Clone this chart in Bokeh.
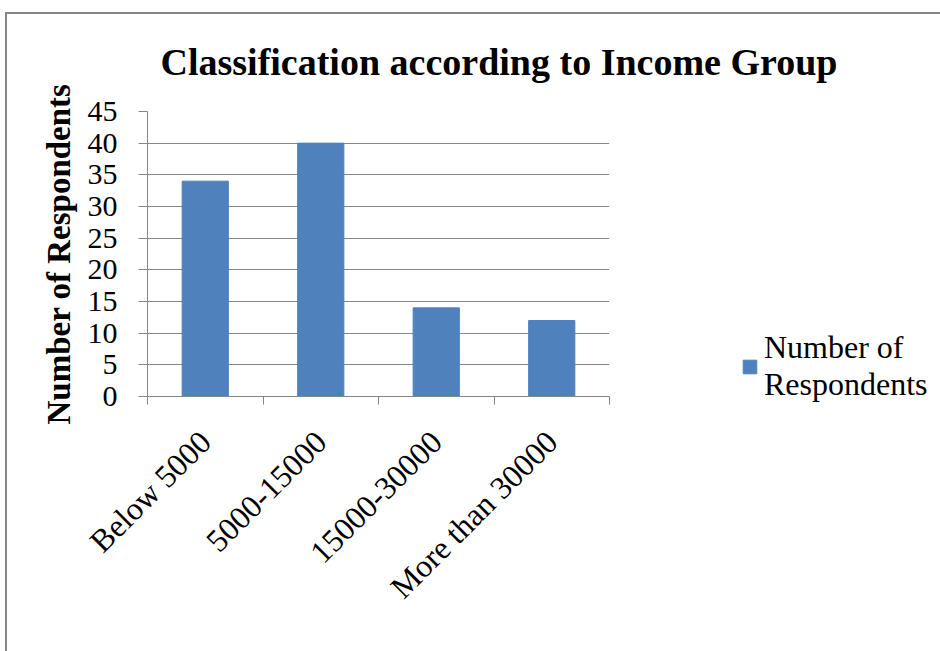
from math import pi
from bokeh.plotting import figure
from bokeh.models import (ColumnDataSource, FixedTicker, Range1d, Legend, LegendItem)
from bokeh.embed import file_html
from bokeh.resources import INLINE

# ---- data ----
categories = ["Below 5000", "5000-15000", "15000-30000", "More than 30000"]
respondents = [34, 40, 14, 12]
y_ticks = [0, 5, 10, 15, 20, 25, 30, 35, 40, 45]
series_name = "Number of Respondents"
legend_label = "Number of\nRespondents"
chart_title = "Classification according to Income Group"

FONT = "Liberation Serif"
GRAY = "#868686"
BAR = "#4F81BD"

x_centers = [i + 0.5 for i in range(len(categories))]
boundaries = list(range(len(categories) + 1))
source = ColumnDataSource(dict(x=x_centers, top=respondents, cat=categories))

p = figure(frame_width=462, frame_height=285, output_backend="svg", toolbar_location=None,
           x_range=Range1d(0, len(categories)), y_range=Range1d(0, y_ticks[-1]),
           min_border_left=147, min_border_right=0, min_border_top=111,
           min_border_bottom=255)

# outer chart border (only left/top edges visible in the window), drawn as css background
p.border_fill_color = None
p.styles = {
    "background": (
        "linear-gradient(#868686,#868686) 5px 12px / 2px 100% no-repeat, "
        "linear-gradient(#868686,#868686) 5px 12px / 100% 2px no-repeat, white"
    )
}

r = p.vbar(x="x", top="top", bottom=0, width=0.4, source=source,
           fill_color=BAR, line_color=BAR)

# title
p.title.text = chart_title
p.title.text_font = FONT
p.title.text_font_size = "38px"
p.title.text_font_style = "bold"
p.title.text_color = "black"
p.title.align = "left"
p.title.offset = 13
p.title.standoff = 57

# x axis
xa = p.xaxis[0]
xa.ticker = FixedTicker(ticks=x_centers, minor_ticks=boundaries)
xa.major_label_overrides = {x: c for x, c in zip(x_centers, categories)}
xa.major_tick_line_color = None
xa.major_tick_out = 0
xa.major_tick_in = 0
xa.minor_tick_out = 8
xa.minor_tick_in = 0
xa.minor_tick_line_color = GRAY
xa.axis_line_color = GRAY
xa.major_label_orientation = pi / 4
xa.major_label_text_font = FONT
xa.major_label_text_font_size = "32px"
xa.major_label_text_color = "black"
xa.major_label_standoff = 32

# y axis
ya = p.yaxis[0]
ya.ticker = FixedTicker(ticks=y_ticks)
ya.minor_tick_line_color = None
ya.major_tick_out = 9
ya.major_tick_in = 0
ya.major_tick_line_color = GRAY
ya.axis_line_color = GRAY
ya.major_label_text_font = FONT
ya.major_label_text_font_size = "30px"
ya.major_label_text_color = "black"
ya.major_label_standoff = 21
ya.axis_label = series_name
ya.axis_label_text_font = FONT
ya.axis_label_text_font_size = "33px"
ya.axis_label_text_font_style = "bold"
ya.axis_label_text_color = "black"
ya.axis_label_standoff = 8

p.xgrid.visible = False
p.ygrid.grid_line_color = GRAY
p.ygrid.grid_line_width = 1
p.outline_line_color = None

# legend
legend = Legend(items=[LegendItem(label=legend_label, renderers=[r])],
                location=(132, -7), orientation="vertical",
                border_line_color=None, background_fill_alpha=0,
                padding=0, margin=0, spacing=0, label_standoff=6,
                glyph_width=17, glyph_height=17,
                label_text_font=FONT, label_text_font_size="32px",
                label_text_color="black")
p.add_layout(legend, "right")

open("out.html", "w").write(file_html(p, INLINE))
